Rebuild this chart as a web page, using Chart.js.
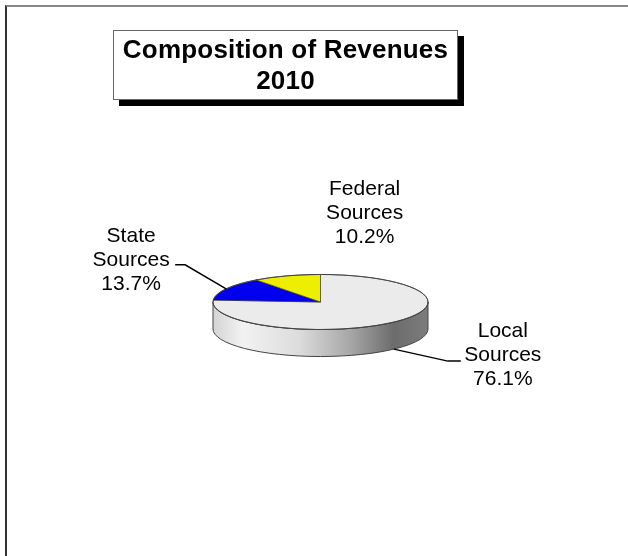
<!DOCTYPE html>
<html>
<head>
<meta charset="utf-8">
<script src="https://cdn.jsdelivr.net/npm/chart.js@4"></script>
<style>
  html, body { margin: 0; background: #fff; }
  #page { position: relative; width: 628px; height: 556px; overflow: hidden; }
  #frame { position: absolute; left: 5px; top: 5px; right: 0; bottom: 0;
           border-top: 2px solid #888; border-left: 2px solid #333; }
  #chart { position: absolute; left: 0; top: 0; }
  #title { position: absolute; left: 113px; top: 30px; width: 343px; height: 65px;
           padding-top: 3px; border: 1px solid #666; background: #fff;
           box-shadow: 6px 6px 0 #000; text-align: center; letter-spacing: 0.2px;
           font: bold 26px/31px "Liberation Sans", Arial, sans-serif; color: #000; }
</style>
</head>
<body>
<div id="page">
  <div id="frame"></div>
  <canvas id="chart" width="628" height="556"></canvas>
  <div id="title"></div>
</div>
<script>
// revenue shares, percent
const categories = ["Local Sources", "State Sources", "Federal Sources"];
const shares = [76.1, 13.7, 10.2];
const titleLines = ["Composition of Revenues", "2010"];

const sliceColors = ["#ebebeb", "#0000ee", "#eeee00"];
const tilt = 0.256;   // vertical squash of the top face
const depth = 27;     // height of the side wall
const wallStops = [
  [0, "#d4d4d4"], [0.14, "#f2f2f2"], [0.4, "#dcdcdc"],
  [0.65, "#a4a4a4"], [0.84, "#6c6c6c"], [1, "#7c7c7c"],
];

// label offsets from the rim point at each slice's middle angle
const labelPlacement = [
  { rim: "bottom", elbow: [54, 12], tail: 13, text: [109, 6] },
  { rim: "top", elbow: [-41, -24], tail: -10, text: [-95, -29] },
  { rim: "top", elbow: null, text: [78, -63] },
];

document.getElementById("title").innerHTML = titleLines.join("<br>");

const pie3d = {
  id: "pie3d",
  beforeDatasetsDraw(chart) {
    const { ctx } = chart;
    const arcs = chart.getDatasetMeta(0).data;
    const { x: cx, y: cy, outerRadius: r } = arcs[0];
    const ry = r * tilt;

    // side wall: only the front half shows
    const grad = ctx.createLinearGradient(cx - r, 0, cx + r, 0);
    wallStops.forEach(([p, c]) => grad.addColorStop(p, c));
    arcs.forEach((arc) => {
      for (const shift of [-2 * Math.PI, 0, 2 * Math.PI]) {
        const a0 = Math.max(arc.startAngle + shift, 0);
        const a1 = Math.min(arc.endAngle + shift, Math.PI);
        if (a1 <= a0) continue;
        ctx.beginPath();
        ctx.ellipse(cx, cy, r, ry, 0, a0, a1);
        ctx.ellipse(cx, cy + depth, r, ry, 0, a1, a0, true);
        ctx.closePath();
        ctx.fillStyle = grad;
        ctx.fill();
        ctx.lineWidth = 1;
        ctx.strokeStyle = "#444";
        ctx.stroke();
      }
    });

    // flatten the pie itself
    ctx.save();
    ctx.translate(cx, cy);
    ctx.scale(1, tilt);
    ctx.translate(-cx, -cy);
  },
  afterDatasetsDraw(chart) {
    const { ctx } = chart;
    ctx.restore();
    const arcs = chart.getDatasetMeta(0).data;
    const { x: cx, y: cy, outerRadius: r } = arcs[0];
    const ry = r * tilt;

    // rim outline of the top face
    ctx.beginPath();
    ctx.ellipse(cx, cy, r, ry, 0, 0, 2 * Math.PI);
    ctx.lineWidth = 1;
    ctx.strokeStyle = "#444";
    ctx.stroke();

    ctx.font = '21px "Liberation Sans", Arial, sans-serif';
    ctx.textAlign = "center";
    ctx.textBaseline = "middle";
    arcs.forEach((arc, i) => {
      const p = labelPlacement[i];
      const mid = (arc.startAngle + arc.endAngle) / 2;
      const px = cx + r * Math.cos(mid);
      const py = cy + ry * Math.sin(mid) + (p.rim === "bottom" ? depth : 0);
      if (p.elbow) {
        const ex = px + p.elbow[0], ey = py + p.elbow[1];
        ctx.beginPath();
        ctx.moveTo(px, py);
        ctx.lineTo(ex, ey);
        ctx.lineTo(ex + p.tail, ey);
        ctx.lineWidth = 1.5;
        ctx.strokeStyle = "#000";
        ctx.stroke();
      }
      const lines = categories[i].split(" ").concat(shares[i].toFixed(1) + "%");
      ctx.fillStyle = "#000";
      lines.forEach((t, j) => {
        ctx.fillText(t, px + p.text[0], py + p.text[1] + (j - 1) * 24);
      });
    });
  },
};

new Chart(document.getElementById("chart"), {
  type: "pie",
  data: {
    labels: categories,
    datasets: [{
      data: shares,
      backgroundColor: sliceColors,
      borderColor: "#333",
      borderWidth: 1,
      hoverOffset: 0,
    }],
  },
  options: {
    responsive: false,
    animation: false,
    layout: { padding: { left: 212.5, right: 199.5, top: 194, bottom: 146 } },
    plugins: {
      legend: { display: false },
      tooltip: { enabled: false },
    },
  },
  plugins: [pie3d],
});
</script>
</body>
</html>
